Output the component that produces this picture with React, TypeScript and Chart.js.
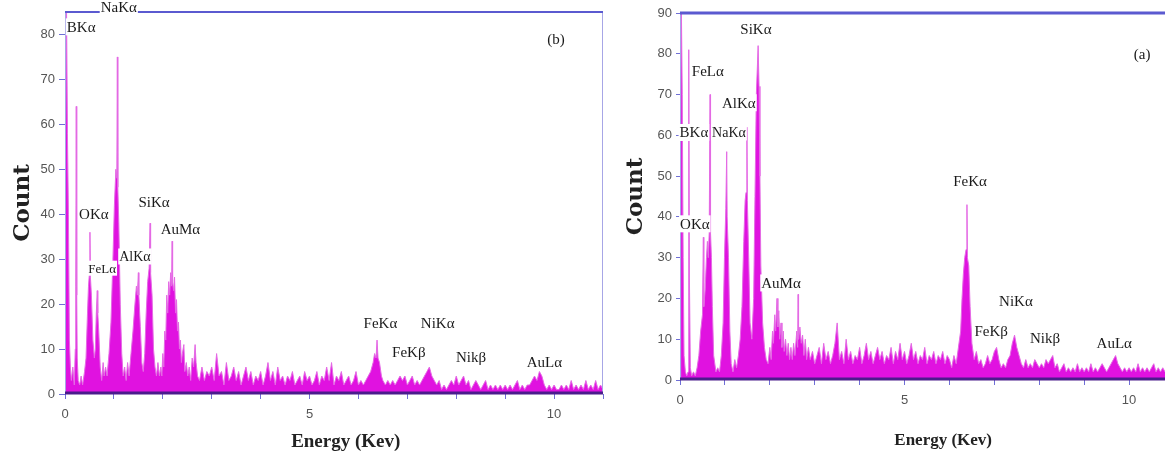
import React, { useEffect, useRef } from "react";
import { Chart, registerables } from "chart.js";

Chart.register(...registerables);

// ---------- Panel (b): energy (keV), count ----------
const spectrumB: [number, number][] = [
  [0, 0], [0.01, 58], [0.03, 88], [0.05, 58], [0.07, 40], [0.09, 12], [0.11, 6], [0.13, 3], [0.16, 6], [0.19, 2],
  [0.21, 10], [0.22, 24], [0.23, 64], [0.24, 22], [0.25, 8], [0.27, 3], [0.3, 2], [0.33, 4], [0.36, 2], [0.4, 5],
  [0.43, 8], [0.46, 18], [0.48, 24], [0.5, 27], [0.51, 36], [0.52, 26], [0.54, 22], [0.57, 12], [0.6, 8], [0.62, 10],
  [0.64, 18], [0.66, 23], [0.67, 18], [0.69, 14], [0.72, 6], [0.75, 3], [0.78, 7], [0.8, 4], [0.83, 6], [0.86, 4],
  [0.9, 9], [0.94, 16], [0.98, 30], [1.01, 42], [1.04, 50], [1.06, 48], [1.07, 75], [1.08, 46], [1.1, 38], [1.13, 20],
  [1.16, 9], [1.19, 4], [1.22, 6], [1.25, 3], [1.28, 7], [1.31, 4], [1.35, 9], [1.39, 14], [1.43, 20], [1.46, 24],
  [1.48, 22], [1.5, 27], [1.51, 22], [1.54, 15], [1.57, 7], [1.6, 5], [1.63, 9], [1.66, 18], [1.69, 25], [1.72, 28],
  [1.74, 38], [1.75, 27], [1.78, 22], [1.81, 10], [1.84, 6], [1.87, 4], [1.9, 7], [1.93, 4], [1.96, 6], [1.98, 4],
  [2.0, 9], [2.02, 6], [2.04, 14], [2.06, 12], [2.08, 22], [2.1, 18], [2.12, 25], [2.14, 22], [2.16, 27], [2.18, 24],
  [2.19, 34], [2.2, 25], [2.22, 23], [2.24, 26], [2.26, 18], [2.28, 21], [2.3, 14], [2.32, 16], [2.34, 10], [2.36, 12],
  [2.38, 7], [2.4, 9], [2.43, 11], [2.45, 5], [2.48, 7], [2.51, 4], [2.54, 6], [2.57, 3], [2.6, 8], [2.63, 6],
  [2.66, 11], [2.68, 7], [2.71, 4], [2.75, 3], [2.8, 6], [2.85, 3], [2.9, 5],
  [2.95, 4], [3.0, 6], [3.05, 3], [3.1, 9], [3.15, 4], [3.2, 5], [3.25, 2], [3.3, 7], [3.35, 3], [3.4, 4],
  [3.45, 6], [3.5, 3], [3.55, 5], [3.6, 2], [3.65, 4], [3.7, 6], [3.75, 3], [3.8, 5], [3.85, 2], [3.9, 4],
  [3.95, 3], [4.0, 5], [4.05, 2], [4.1, 4], [4.15, 7], [4.2, 3], [4.25, 5], [4.3, 2], [4.35, 6], [4.4, 3],
  [4.45, 4], [4.5, 2], [4.55, 4], [4.6, 3], [4.65, 5], [4.7, 2], [4.75, 3], [4.8, 4], [4.85, 2], [4.9, 5],
  [4.95, 3], [5.0, 4], [5.05, 2], [5.1, 3], [5.15, 5], [5.2, 2], [5.25, 4], [5.3, 3], [5.35, 6], [5.4, 3],
  [5.45, 7], [5.5, 2], [5.55, 4], [5.6, 3], [5.65, 5], [5.7, 2], [5.75, 3], [5.8, 4], [5.85, 2], [5.9, 3],
  [5.95, 5], [6.0, 2], [6.05, 3], [6.1, 2], [6.15, 3], [6.2, 4], [6.25, 5], [6.3, 7], [6.33, 9], [6.36, 8],
  [6.38, 12], [6.4, 8], [6.43, 7], [6.47, 4], [6.5, 3], [6.55, 2], [6.6, 3], [6.65, 2], [6.7, 3], [6.75, 2],
  [6.8, 3], [6.85, 4], [6.9, 3], [6.95, 4], [7.0, 2], [7.05, 3], [7.1, 4], [7.15, 2], [7.2, 3], [7.25, 2],
  [7.3, 3], [7.35, 4], [7.4, 5], [7.45, 6], [7.5, 4], [7.55, 3], [7.6, 2], [7.65, 3], [7.7, 1], [7.75, 2],
  [7.8, 1], [7.85, 2], [7.9, 3], [7.95, 2], [8.0, 4], [8.05, 2], [8.1, 3], [8.15, 4], [8.2, 2], [8.25, 3],
  [8.3, 1], [8.35, 2], [8.4, 3], [8.45, 2], [8.5, 1], [8.55, 2], [8.6, 3], [8.65, 1], [8.7, 2], [8.75, 1],
  [8.8, 2], [8.85, 1], [8.9, 2], [8.95, 1], [9.0, 2], [9.05, 1], [9.1, 2], [9.15, 1], [9.2, 2], [9.25, 3],
  [9.3, 1], [9.35, 2], [9.4, 1], [9.45, 2], [9.5, 2], [9.55, 3], [9.6, 4], [9.65, 3], [9.7, 5], [9.75, 4],
  [9.8, 2], [9.85, 1], [9.9, 2], [9.95, 1], [10.0, 2], [10.05, 1], [10.1, 1], [10.15, 2], [10.2, 1], [10.25, 2],
  [10.3, 1], [10.35, 3], [10.4, 1], [10.45, 2], [10.5, 1], [10.55, 2], [10.6, 1], [10.65, 3], [10.7, 1], [10.75, 2],
  [10.8, 1], [10.85, 3], [10.9, 1], [10.95, 2], [11.0, 1],
];
const peakNamesB = ["BKα", "NaKα", "OKα", "FeLα", "AlKα", "SiKα", "AuMα", "FeKα", "FeKβ", "NiKα", "Nikβ", "AuLα", "(b)"];
const peakAnchorsB: [number, number][] = [
  [0.33, 81.7], [1.1, 86.2], [0.59, 40], [0.76, 28], [1.43, 30.6], [1.82, 42.6], [2.36, 36.8],
  [6.45, 15.8], [7.03, 9.4], [7.62, 15.8], [8.3, 8.3], [9.8, 7.1], [10.04, 79],
];

// ---------- Panel (a): energy (keV), count ----------
const spectrumA: [number, number][] = [
  [0, 0], [0.01, 60], [0.02, 85], [0.03, 92], [0.05, 70], [0.07, 30], [0.09, 6], [0.12, 2], [0.15, 1], [0.18, 2],
  [0.19, 30], [0.2, 81], [0.21, 25], [0.23, 3], [0.26, 1], [0.3, 2], [0.34, 1], [0.38, 3], [0.42, 6], [0.46, 12],
  [0.5, 16], [0.52, 35], [0.53, 18], [0.56, 22], [0.59, 30], [0.61, 34], [0.63, 30], [0.65, 36], [0.67, 70], [0.68, 36],
  [0.7, 30], [0.72, 18], [0.75, 6], [0.8, 2], [0.84, 3], [0.88, 2], [0.92, 6], [0.96, 14], [0.99, 30], [1.02, 42],
  [1.04, 56], [1.05, 40], [1.08, 30], [1.11, 12], [1.14, 4], [1.18, 2], [1.22, 5], [1.26, 3], [1.3, 6], [1.34, 10],
  [1.38, 18], [1.42, 34], [1.45, 44], [1.47, 46], [1.49, 62], [1.5, 44], [1.53, 30], [1.56, 14], [1.6, 10], [1.64, 20],
  [1.67, 45], [1.7, 70], [1.72, 76], [1.74, 82], [1.76, 72], [1.78, 50], [1.8, 28], [1.84, 14], [1.88, 8], [1.92, 5],
  [1.96, 4], [2.0, 8], [2.03, 5], [2.06, 12], [2.08, 9], [2.11, 16], [2.13, 12], [2.16, 20], [2.18, 13], [2.2, 17],
  [2.22, 10], [2.25, 14], [2.27, 8], [2.3, 12], [2.32, 7], [2.35, 10], [2.38, 6], [2.41, 9], [2.44, 5], [2.47, 8],
  [2.5, 5], [2.53, 9], [2.56, 6], [2.6, 12], [2.62, 8], [2.63, 21], [2.64, 10], [2.67, 13], [2.7, 9], [2.73, 11],
  [2.76, 6], [2.79, 10], [2.82, 5], [2.86, 8], [2.9, 5],
  [2.95, 7], [3.0, 4], [3.05, 6], [3.1, 8], [3.15, 4], [3.2, 9], [3.25, 5], [3.3, 7], [3.35, 4], [3.4, 6],
  [3.45, 9], [3.5, 14], [3.55, 5], [3.6, 7], [3.65, 4], [3.7, 10], [3.75, 5], [3.8, 7], [3.85, 4], [3.9, 6],
  [3.95, 5], [4.0, 8], [4.05, 4], [4.1, 6], [4.15, 9], [4.2, 5], [4.25, 7], [4.3, 4], [4.35, 6], [4.4, 8],
  [4.45, 5], [4.5, 7], [4.55, 4], [4.6, 6], [4.65, 5], [4.7, 8], [4.75, 4], [4.8, 7], [4.85, 5], [4.9, 9],
  [4.95, 5], [5.0, 7], [5.05, 4], [5.1, 6], [5.15, 9], [5.2, 5], [5.25, 7], [5.3, 4], [5.35, 6], [5.4, 5],
  [5.45, 8], [5.5, 4], [5.55, 6], [5.6, 5], [5.65, 7], [5.7, 4], [5.75, 6], [5.8, 5], [5.85, 7], [5.9, 4],
  [5.95, 6], [6.0, 5], [6.05, 3], [6.1, 6], [6.15, 4], [6.2, 8], [6.25, 12], [6.28, 20], [6.31, 26], [6.34, 30],
  [6.37, 32], [6.39, 43], [6.4, 30], [6.43, 28], [6.46, 18], [6.5, 9], [6.55, 5], [6.6, 7], [6.65, 4], [6.7, 5],
  [6.75, 3], [6.8, 4], [6.85, 6], [6.9, 4], [6.95, 5], [7.0, 7], [7.05, 8], [7.1, 5], [7.15, 3], [7.2, 4],
  [7.25, 3], [7.3, 5], [7.35, 6], [7.4, 9], [7.45, 11], [7.5, 8], [7.55, 6], [7.6, 4], [7.65, 3], [7.7, 5],
  [7.75, 3], [7.8, 4], [7.85, 3], [7.9, 5], [7.95, 4], [8.0, 3], [8.05, 4], [8.1, 3], [8.15, 5], [8.2, 4],
  [8.25, 5], [8.3, 6], [8.35, 3], [8.4, 4], [8.45, 2], [8.5, 3], [8.55, 4], [8.6, 2], [8.65, 3], [8.7, 2],
  [8.75, 3], [8.8, 2], [8.85, 4], [8.9, 2], [8.95, 3], [9.0, 2], [9.05, 3], [9.1, 2], [9.15, 4], [9.2, 2],
  [9.25, 3], [9.3, 2], [9.35, 3], [9.4, 4], [9.45, 3], [9.5, 2], [9.55, 3], [9.6, 4], [9.65, 5], [9.7, 6],
  [9.75, 4], [9.8, 3], [9.85, 2], [9.9, 3], [9.95, 2], [10.0, 3], [10.05, 2], [10.1, 3], [10.15, 2], [10.2, 4],
  [10.25, 2], [10.3, 3], [10.35, 2], [10.4, 3], [10.45, 2], [10.5, 3], [10.55, 4], [10.6, 2], [10.65, 3], [10.7, 2],
  [10.75, 3], [10.8, 2],
];
const peakNamesA = ["SiKα", "FeLα", "AlKα", "BKα", "NaKα", "OKα", "AuMα", "FeKα", "NiKα", "FeKβ", "Nikβ", "AuLα", "(a)"];
const peakAnchorsA: [number, number][] = [
  [1.69, 86], [0.62, 75.7], [1.31, 68], [0.31, 60.7], [1.09, 60.7], [0.33, 38.3], [2.25, 23.8],
  [6.46, 48.9], [7.48, 19.4], [6.93, 12], [8.13, 10.3], [9.67, 9.1], [10.29, 80],
];

type PanelCfg = {
  spectrum: [number, number][];
  names: string[];
  anchors: [number, number][];
  fontSizes: number[];
  left: number;
  width: number;
  xMax: number;
  yMax: number;
  padTop: number;
  padRight: number;
  yAxisWidth: number;
  xAxisHeight: number;
  yTickLen: number;
  yTitlePad: number;
  xTitleSize: number;
  xTitleAt: number;
  xTitleGap: number;
  topLine: number;
  rightLine: boolean;
};

const panels: PanelCfg[] = [
  {
    spectrum: spectrumB, names: peakNamesB, anchors: peakAnchorsB,
    fontSizes: [15, 15, 15, 13, 14, 15, 15, 15, 15, 15, 15, 15, 15],
    left: 0, width: 611, xMax: 11, yMax: 85, padTop: 12, padRight: 2,
    yAxisWidth: 65, xAxisHeight: 68, yTickLen: 6, yTitlePad: 9,
    xTitleSize: 19, xTitleAt: 5.74, xTitleGap: 48, topLine: 2, rightLine: true,
  },
  {
    spectrum: spectrumA, names: peakNamesA, anchors: peakAnchorsA,
    fontSizes: [15, 15, 15, 15, 14, 15, 15, 15, 15, 15, 15, 15, 15],
    left: 605, width: 560, xMax: 10.8, yMax: 90, padTop: 13, padRight: 0,
    yAxisWidth: 75, xAxisHeight: 82, yTickLen: 4, yTitlePad: 17,
    xTitleSize: 17, xTitleAt: 5.86, xTitleGap: 61, topLine: 3, rightLine: false,
  },
];

function SpectrumPanel({ cfg }: { cfg: PanelCfg }) {
  const ref = useRef<HTMLCanvasElement>(null);
  useEffect(() => {
    const canvas = ref.current!;
    const decor = {
      id: "decor",
      afterDatasetsDraw(chart: any) {
        const { ctx, chartArea: a, scales } = chart;
        const xs = scales.x;
        const ys = scales.y;
        ctx.save();
        // frame
        ctx.strokeStyle = "#a7a6e6";
        ctx.lineWidth = 1;
        ctx.beginPath();
        ctx.moveTo(a.left + 0.5, a.bottom);
        ctx.lineTo(a.left + 0.5, a.top);
        if (cfg.rightLine) {
          ctx.moveTo(a.right - 0.5, a.top);
          ctx.lineTo(a.right - 0.5, a.bottom);
        }
        ctx.stroke();
        ctx.strokeStyle = "#5b5ad0";
        ctx.lineWidth = cfg.topLine;
        ctx.beginPath();
        ctx.moveTo(a.left, a.top);
        ctx.lineTo(a.right, a.top);
        ctx.stroke();
        ctx.strokeStyle = "#4a1c8c";
        ctx.lineWidth = 3;
        ctx.beginPath();
        ctx.moveTo(a.left, a.bottom - 1);
        ctx.lineTo(a.right, a.bottom - 1);
        ctx.stroke();
        // peak labels
        ctx.textAlign = "center";
        ctx.textBaseline = "middle";
        cfg.names.forEach((name, i) => {
          const [e, c] = cfg.anchors[i];
          const px = xs.getPixelForValue(e);
          const py = ys.getPixelForValue(c);
          ctx.font = `${cfg.fontSizes[i]}px "Liberation Serif", "Times New Roman", serif`;
          const w = ctx.measureText(name).width;
          const h = cfg.fontSizes[i] + 2;
          ctx.fillStyle = "#ffffff";
          ctx.fillRect(px - w / 2 - 1, py - h / 2, w + 2, h);
          ctx.fillStyle = "#1a1a1a";
          ctx.fillText(name, px, py + 1);
        });
        // x axis title
        ctx.font = `bold ${cfg.xTitleSize}px "Liberation Serif", "Times New Roman", serif`;
        ctx.fillStyle = "#222222";
        ctx.fillText("Energy (Kev)", xs.getPixelForValue(cfg.xTitleAt), a.bottom + cfg.xTitleGap);
        ctx.restore();
      },
    };
    const chart = new Chart(canvas, {
      type: "line",
      data: {
        datasets: [
          {
            data: cfg.spectrum.map(([x, y]) => ({ x, y })),
            borderColor: "#e46ae4",
            borderWidth: 1,
            backgroundColor: "#e012e0",
            fill: "origin",
            pointRadius: 0,
            tension: 0,
          },
        ],
      },
      options: {
        responsive: false,
        animation: false,
        devicePixelRatio: 1,
        layout: { padding: { top: cfg.padTop, right: cfg.padRight, left: 0, bottom: 0 } },
        plugins: { legend: { display: false }, tooltip: { enabled: false } },
        scales: {
          x: {
            type: "linear",
            min: 0,
            max: cfg.xMax,
            afterFit: (s: any) => {
              s.height = cfg.xAxisHeight;
            },
            border: { display: false },
            grid: { drawOnChartArea: false, tickLength: 5, color: "#6f6fd6" },
            ticks: {
              stepSize: 1,
              includeBounds: false,
              autoSkip: false,
              maxRotation: 0,
              padding: 8,
              color: "#555555",
              font: { family: '"Liberation Sans", Arial, sans-serif', size: 13 },
              callback: (v: any) => (Number(v) % 5 === 0 ? String(v) : ""),
            },
            title: { display: false },
          },
          y: {
            min: 0,
            max: cfg.yMax,
            afterFit: (s: any) => {
              s.width = cfg.yAxisWidth;
            },
            border: { display: false },
            grid: { drawOnChartArea: false, tickLength: cfg.yTickLen, color: "#6f6fd6" },
            ticks: {
              stepSize: 10,
              includeBounds: false,
              padding: 4,
              color: "#555555",
              font: { family: '"Liberation Sans", Arial, sans-serif', size: 13 },
            },
            title: {
              display: true,
              text: "Count",
              color: "#222222",
              font: { family: '"DejaVu Serif", serif', size: 23, weight: "bold" },
              padding: { top: cfg.yTitlePad, bottom: 0 },
            },
          },
        },
      } as any,
      plugins: [decor],
    });
    return () => chart.destroy();
  }, [cfg]);
  return (
    <canvas
      ref={ref}
      width={cfg.width}
      height={462}
      style={{ position: "absolute", left: cfg.left, top: 0, width: cfg.width, height: 462 }}
    />
  );
}

export default function App() {
  return (
    <div style={{ position: "absolute", left: 0, top: 0, width: 1165, height: 462, background: "#ffffff" }}>
      {panels.map((p, i) => (
        <SpectrumPanel key={i} cfg={p} />
      ))}
    </div>
  );
}
